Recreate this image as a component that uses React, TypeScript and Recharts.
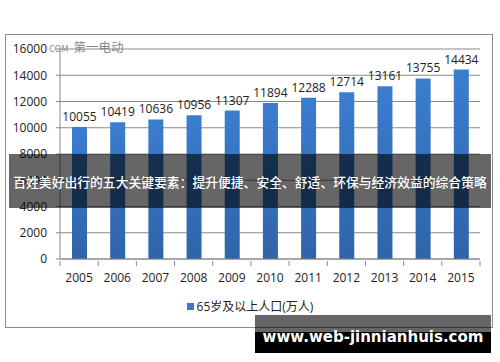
import React from 'react';
import { BarChart, Bar, XAxis, YAxis, CartesianGrid, LabelList } from 'recharts';

const years = ['2005', '2006', '2007', '2008', '2009', '2010', '2011', '2012', '2013', '2014', '2015'];
const population = [10055, 10419, 10636, 10956, 11307, 11894, 12288, 12714, 13161, 13755, 14434];
const yTicks = [0, 2000, 4000, 6000, 8000, 10000, 12000, 14000, 16000];
const seriesName = '65岁及以上人口(万人)';
const bannerText = '百姓美好出行的五大关键要素：提升便捷、安全、舒适、环保与经济效益的综合策略';
const siteText = 'www.web-jinnianhuis.com';

const data = years.map((y, i) => ({ year: y, value: population[i] }));

const FONT = '"Open Sans", "Noto Sans CJK SC", sans-serif';

const XTick = (props: any) => {
  const { x, y, payload, index } = props;
  const half = 420 / years.length / 2;
  return (
    <g>
      <line x1={x - half} x2={x - half} y1={y - 7} y2={y - 2} stroke="#888" />
      {index === years.length - 1 && (
        <line x1={x + half} x2={x + half} y1={y - 7} y2={y - 2} stroke="#888" />
      )}
      <text x={x} y={y + 14} textAnchor="middle" fontSize={12} fill="#222" fontFamily={FONT}>
        {payload.value}
      </text>
    </g>
  );
};

export default function App() {
  return (
    <div style={{ position: 'absolute', left: 0, top: 0, width: 500, height: 362, background: '#fff', overflow: 'hidden' }}>
      <div style={{ position: 'absolute', left: 5, top: 34, width: 486, height: 292, border: '1px solid #8c8c8c' }} />
      <div style={{ position: 'absolute', left: 0, top: 0 }}>
        <BarChart width={500} height={362} data={data} margin={{ top: 49, right: 20, bottom: 73, left: 0 }} barCategoryGap={0}>
          <defs>
            <linearGradient id="barGrad" x1="0" y1="0" x2="0" y2="1">
              <stop offset="0%" stopColor="#3b7dd0" />
              <stop offset="100%" stopColor="#2f64a8" />
            </linearGradient>
          </defs>
          <CartesianGrid vertical={false} stroke="#8a8a8a" />
          <XAxis
            dataKey="year"
            axisLine={{ stroke: '#888' }}
            tickLine={false}
            tick={<XTick />}
            interval={0}
            tickSize={7}
            tickMargin={2}
            height={30}
          />
          <YAxis
            width={60}
            domain={[0, 16000]}
            ticks={yTicks}
            interval={0}
            axisLine={{ stroke: '#888' }}
            tickLine={{ stroke: '#888' }}
            tickSize={4}
            tickMargin={9}
            tick={{ fontSize: 12, fill: '#222', fontFamily: FONT }}
          />
          <Bar dataKey="value" name={seriesName} fill="url(#barGrad)" barSize={15} isAnimationActive={false}>
            <LabelList dataKey="value" position="top" offset={6} style={{ fontSize: 12, fill: '#222', fontFamily: FONT }} />
          </Bar>
        </BarChart>
      </div>
      <div style={{ position: 'absolute', left: 0, top: 297, width: 500, display: 'flex', justifyContent: 'center', alignItems: 'center', fontFamily: FONT, fontSize: 12, color: '#222' }}>
        <span style={{ display: 'inline-block', width: 7, height: 7, background: '#3a78c8', marginRight: 3 }} />
        <span>{seriesName}</span>
      </div>
      <div style={{ position: 'absolute', left: 49, top: 37, fontFamily: '"Noto Sans CJK SC", sans-serif', color: '#8a8a8a', whiteSpace: 'nowrap', display: 'flex', alignItems: 'baseline' }}>
        <span style={{ fontSize: 9 }}>COM</span>
        <span style={{ fontSize: 12.5, marginLeft: 5 }}>第一电动</span>
      </div>
      <div
        style={{
          position: 'absolute', left: 9, top: 154, width: 482, height: 54,
          background: 'rgba(0,0,0,0.6)', color: '#fff', display: 'flex', alignItems: 'center', justifyContent: 'center',
          fontFamily: '"Noto Sans CJK SC", sans-serif', fontSize: 12.8, fontWeight: 500, whiteSpace: 'nowrap', overflow: 'hidden',
        }}
      >
        {bannerText}
      </div>
      <div style={{ position: 'absolute', left: 255, top: 315, width: 236, height: 17, background: 'rgba(0,0,0,0.6)' }} />
      <div style={{ position: 'absolute', left: 255, top: 332, width: 236, height: 21, background: '#000' }} />
      <div
        style={{
          position: 'absolute', left: 255, top: 315, width: 236, height: 38,
          display: 'flex', alignItems: 'center', justifyContent: 'center', paddingTop: 6, boxSizing: 'border-box',
          color: '#fff', fontFamily: '"DejaVu Sans", sans-serif', fontWeight: 'bold', fontSize: 15, whiteSpace: 'nowrap',
        }}
      >
        {siteText}
      </div>
    </div>
  );
}
